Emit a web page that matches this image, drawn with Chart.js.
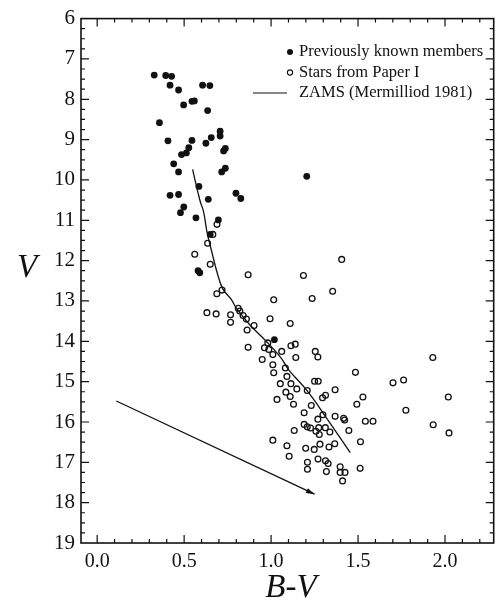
<!DOCTYPE html>
<html>
<head>
<meta charset="utf-8">
<script src="https://cdn.jsdelivr.net/npm/chart.js@4.4.1/dist/chart.umd.min.js"></script>
<style>
  html, body { margin: 0; padding: 0; background: #fff; }
  #wrap { width: 499px; height: 602px; }
</style>
</head>
<body>
<div id="wrap"><canvas id="cmd" width="499" height="602"></canvas></div>
<script>
// colour-magnitude diagram: V against B-V
var knownBV = [0.328, 0.394, 0.428, 0.419, 0.468, 0.606, 0.648, 0.497, 0.545, 0.559, 0.635,
  0.358, 0.407, 0.545, 0.625, 0.656, 0.707, 0.707, 0.527, 0.513, 0.485, 0.737, 0.727,
  0.440, 0.468, 0.737, 0.716, 0.585, 0.419, 0.468, 0.639, 0.798, 0.826, 0.498, 0.479,
  0.568, 0.697, 0.650, 0.580, 0.590, 1.019, 1.205];
var knownV = [7.40, 7.41, 7.43, 7.65, 7.77, 7.65, 7.66, 8.14, 8.05, 8.04, 8.28,
  8.58, 9.03, 9.02, 9.09, 8.95, 8.79, 8.91, 9.20, 9.33, 9.37, 9.22, 9.28,
  9.60, 9.80, 9.71, 9.80, 10.16, 10.38, 10.36, 10.48, 10.33, 10.46, 10.67, 10.81,
  10.94, 10.99, 11.35, 12.25, 12.30, 13.96, 9.91];

var paperBV = [0.689, 0.665, 0.635, 0.561, 0.650, 0.868, 0.718, 0.688, 1.015, 1.406,
  1.186, 1.354, 1.236, 0.631, 0.684, 0.767, 0.767, 0.811, 0.820, 0.839, 0.858, 0.902,
  0.862, 0.994, 1.110, 0.868, 0.981, 0.962, 0.987, 1.010, 1.061, 1.114, 1.139, 1.142,
  0.949, 1.254, 1.269, 1.010, 1.015, 1.082, 1.091, 1.053, 1.114, 1.148, 1.085, 1.110,
  1.034, 1.129, 1.250, 1.271, 1.485, 1.930, 1.701, 1.762, 2.019, 1.775, 1.932, 2.023,
  1.208, 1.368, 1.296, 1.313, 1.528, 1.493, 1.231, 1.190, 1.298, 1.269, 1.368, 1.417,
  1.423, 1.542, 1.586, 1.190, 1.208, 1.227, 1.258, 1.274, 1.312, 1.277, 1.338, 1.133,
  1.447, 1.010, 1.091, 1.104, 1.199, 1.248, 1.281, 1.333, 1.366, 1.514, 1.270, 1.209,
  1.209, 1.313, 1.328, 1.318, 1.397, 1.397, 1.425, 1.411, 1.512];
var paperV = [11.10, 11.35, 11.57, 11.84, 12.09, 12.35, 12.73, 12.82, 12.97, 11.97,
  12.37, 12.76, 12.94, 13.29, 13.32, 13.34, 13.53, 13.18, 13.25, 13.36, 13.45, 13.61,
  13.72, 13.44, 13.56, 14.15, 14.04, 14.16, 14.20, 14.33, 14.25, 14.11, 14.07, 14.40,
  14.45, 14.25, 14.39, 14.58, 14.78, 14.66, 14.87, 15.05, 15.05, 15.18, 15.26, 15.37,
  15.44, 15.56, 14.99, 14.99, 14.77, 14.40, 15.03, 14.96, 15.38, 15.71, 16.07, 16.27,
  15.22, 15.20, 15.40, 15.34, 15.38, 15.56, 15.59, 15.77, 15.82, 15.93, 15.86, 15.91,
  15.95, 15.98, 15.98, 16.06, 16.12, 16.15, 16.23, 16.14, 16.14, 16.31, 16.25, 16.21,
  16.21, 16.45, 16.59, 16.85, 16.65, 16.68, 16.55, 16.62, 16.54, 16.49, 16.92, 17.00,
  17.17, 16.96, 17.03, 17.23, 17.11, 17.25, 17.25, 17.46, 17.15];

var zamsBV = [0.549, 0.565, 0.579, 0.593, 0.612, 0.631, 0.659, 0.688, 0.722, 0.769,
  0.801, 0.877, 0.972, 1.057, 1.100, 1.208, 1.322, 1.455];
var zamsV = [9.74, 10.05, 10.30, 10.54, 10.79, 11.28, 11.78, 12.27, 12.70, 12.95,
  13.18, 13.59, 14.00, 14.41, 14.70, 15.23, 15.92, 16.76];

// reddening vector
var arrowBV = [0.11, 1.25];
var arrowV = [15.48, 17.79];

var xTicks = [0.0, 0.5, 1.0, 1.5, 2.0];
var yTicks = [6, 7, 8, 9, 10, 11, 12, 13, 14, 15, 16, 17, 18, 19];

function pairs(xs, ys) {
  return xs.map(function (v, i) { return { x: v, y: ys[i] }; });
}

var ink = '#111';
var serif = 'Liberation Serif';
Chart.defaults.font.family = serif;

var frame = {
  id: 'frame',
  afterDraw: function (chart) {
    var ctx = chart.ctx, a = chart.chartArea;
    var x = chart.scales.x, y = chart.scales.y;
    ctx.save();
    ctx.strokeStyle = ink;
    ctx.lineWidth = 1.6;
    ctx.strokeRect(a.left, a.top, a.right - a.left, a.bottom - a.top);

    // inward ticks on all four sides
    ctx.lineWidth = 1.2;
    ctx.beginPath();
    for (var i = -1; i <= 23; i++) {
      var px = x.getPixelForValue(i / 10);
      if (px <= a.left + 1 || px >= a.right - 1) continue;
      var len = (i % 5 === 0) ? 8 : 4;
      ctx.moveTo(px, a.bottom); ctx.lineTo(px, a.bottom - len);
      ctx.moveTo(px, a.top); ctx.lineTo(px, a.top + len);
    }
    for (var j = 24; j <= 76; j++) {
      var py = y.getPixelForValue(j / 4);
      if (py <= a.top + 1 || py >= a.bottom - 1) continue;
      var l2 = (j % 4 === 0) ? 8 : 4;
      ctx.moveTo(a.left, py); ctx.lineTo(a.left + l2, py);
      ctx.moveTo(a.right, py); ctx.lineTo(a.right - l2, py);
    }
    ctx.stroke();

    // arrow head at the end of the reddening vector
    var x0 = x.getPixelForValue(arrowBV[0]), y0 = y.getPixelForValue(arrowV[0]);
    var x1 = x.getPixelForValue(arrowBV[1]), y1 = y.getPixelForValue(arrowV[1]);
    var ang = Math.atan2(y1 - y0, x1 - x0);
    ctx.fillStyle = ink;
    ctx.beginPath();
    ctx.moveTo(x1, y1);
    ctx.lineTo(x1 - 9 * Math.cos(ang - 0.3), y1 - 9 * Math.sin(ang - 0.3));
    ctx.lineTo(x1 - 9 * Math.cos(ang + 0.3), y1 - 9 * Math.sin(ang + 0.3));
    ctx.closePath();
    ctx.fill();

    // legend
    var ds = chart.data.datasets;
    ctx.font = '16.5px "' + serif + '"';
    ctx.textBaseline = 'middle';
    ctx.textAlign = 'left';
    ctx.fillText(ds[0].label, 299, 52);
    ctx.fillText(ds[1].label, 299, 72.5);
    ctx.fillText(ds[2].label, 299, 93);
    ctx.beginPath();
    ctx.arc(290, 52, 3, 0, Math.PI * 2);
    ctx.fill();
    ctx.lineWidth = 1.1;
    ctx.beginPath();
    ctx.arc(290, 72.5, 2.6, 0, Math.PI * 2);
    ctx.stroke();
    ctx.beginPath();
    ctx.moveTo(253, 93); ctx.lineTo(287, 93);
    ctx.stroke();

    // axis titles
    ctx.font = 'italic 33px "' + serif + '"';
    ctx.textAlign = 'center';
    ctx.fillText('V', 27, 268);
    ctx.fillText('B-V', 291, 588);
    ctx.restore();
  }
};

new Chart(document.getElementById('cmd').getContext('2d'), {
  type: 'scatter',
  data: {
    datasets: [{
      label: 'Previously known members',
      data: pairs(knownBV, knownV),
      pointRadius: 3.4,
      pointBackgroundColor: ink,
      pointBorderColor: ink,
      pointBorderWidth: 0
    }, {
      label: 'Stars from Paper I',
      data: pairs(paperBV, paperV),
      pointRadius: 2.9,
      pointBackgroundColor: 'rgba(0,0,0,0)',
      pointBorderColor: ink,
      pointBorderWidth: 1.3
    }, {
      label: 'ZAMS (Mermilliod 1981)',
      data: pairs(zamsBV, zamsV),
      showLine: true,
      tension: 0.4,
      pointRadius: 0,
      borderColor: ink,
      borderWidth: 1.3
    }, {
      label: 'reddening',
      data: pairs(arrowBV, arrowV),
      showLine: true,
      pointRadius: 0,
      borderColor: ink,
      borderWidth: 1.3
    }]
  },
  options: {
    responsive: false,
    animation: false,
    devicePixelRatio: 1,
    layout: { padding: { top: 16, right: 2, left: 0, bottom: 0 } },
    plugins: { legend: { display: false }, tooltip: { enabled: false } },
    scales: {
      x: {
        type: 'linear',
        min: -0.093,
        max: 2.28,
        grid: { display: false, drawTicks: false },
        border: { display: false },
        afterBuildTicks: function (s) { s.ticks = xTicks.map(function (v) { return { value: v }; }); },
        afterFit: function (s) { s.height = 59; },
        ticks: {
          color: ink,
          padding: 7,
          maxRotation: 0,
          font: { family: serif, size: 20 },
          callback: function (v) { return Number(v).toFixed(1); }
        }
      },
      y: {
        type: 'linear',
        reverse: true,
        min: 6,
        max: 19,
        grid: { display: false, drawTicks: false },
        border: { display: false },
        afterBuildTicks: function (s) { s.ticks = yTicks.map(function (v) { return { value: v }; }); },
        afterFit: function (s) { s.width = 81; },
        ticks: {
          color: ink,
          padding: 6,
          font: { family: serif, size: 21 }
        }
      }
    }
  },
  plugins: [frame]
});
</script>
</body>
</html>
